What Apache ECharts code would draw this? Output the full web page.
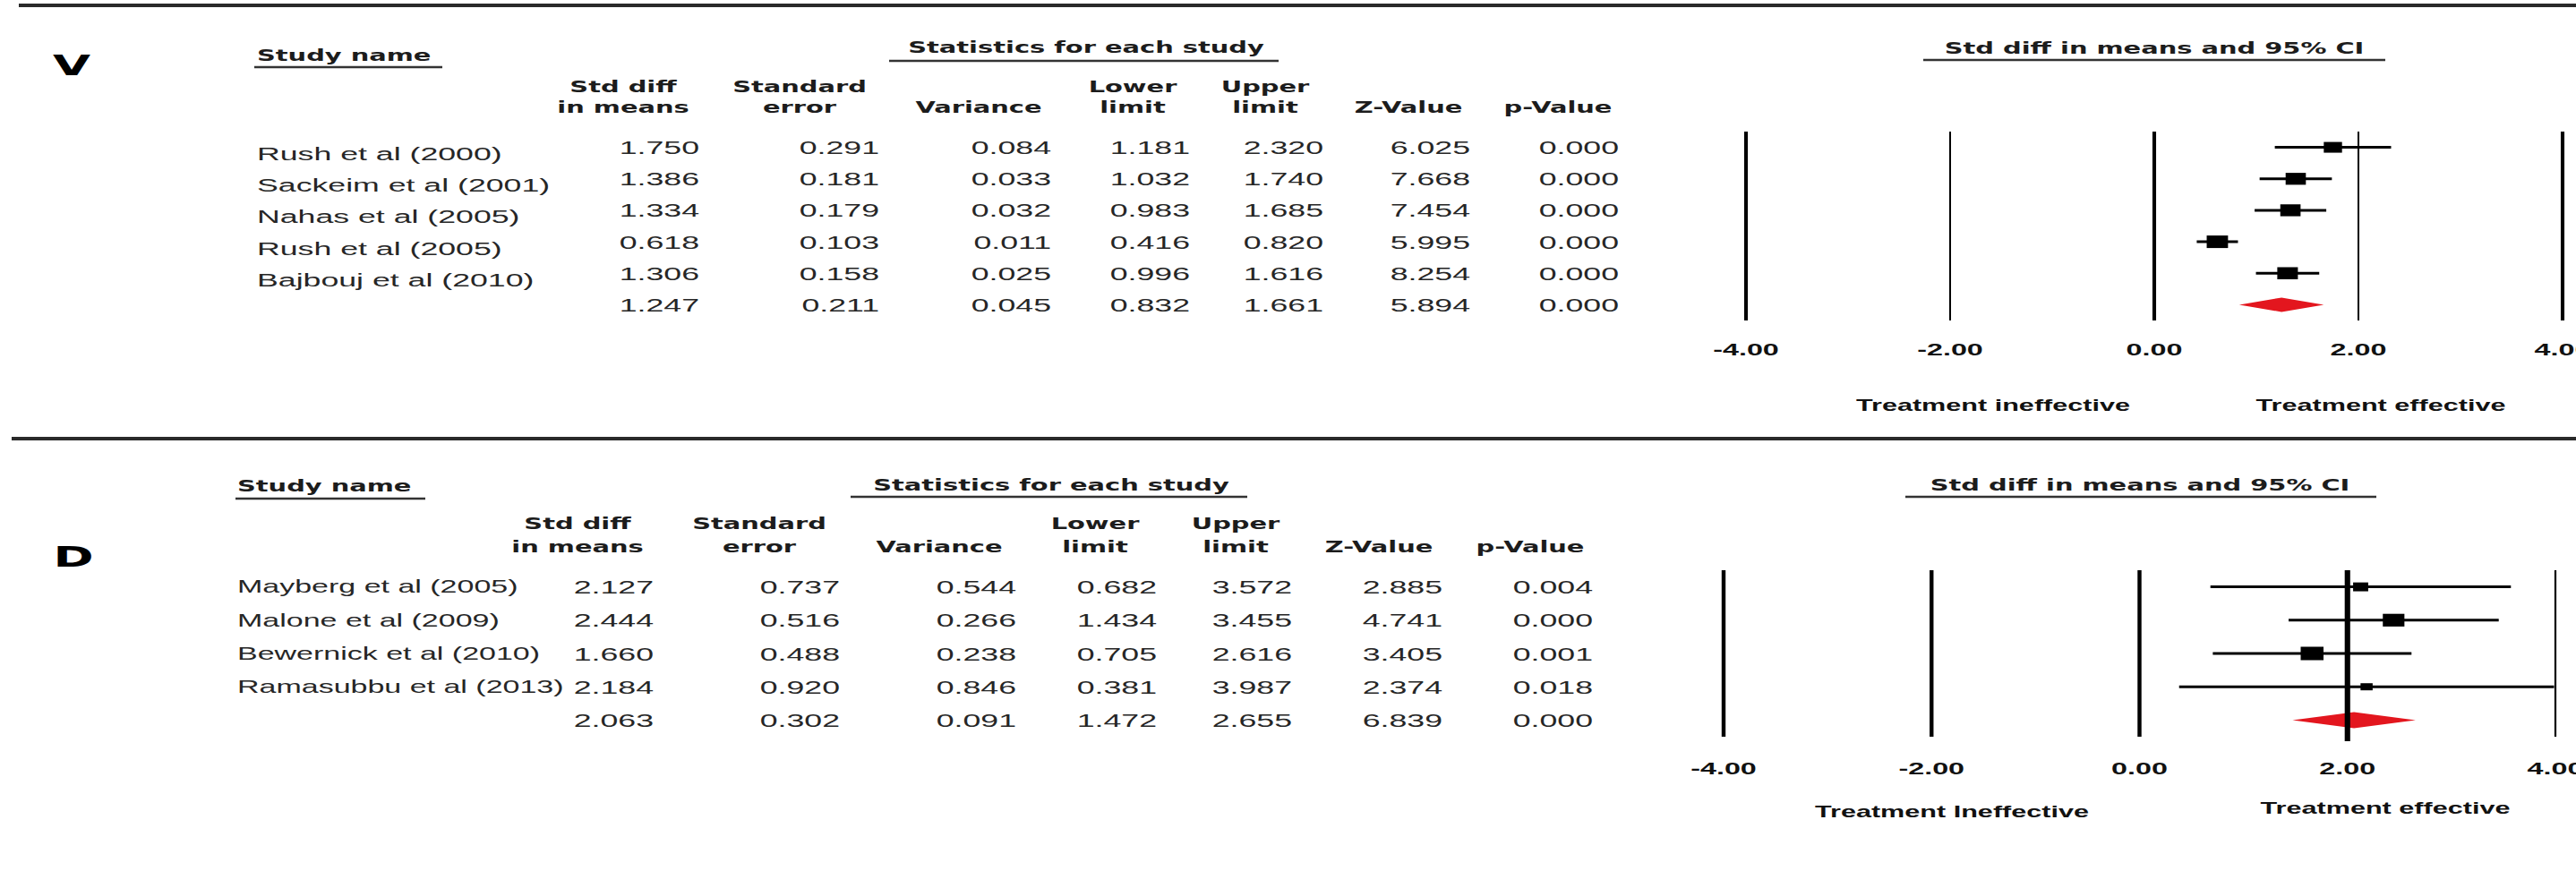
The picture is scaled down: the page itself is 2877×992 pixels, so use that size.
<!DOCTYPE html>
<html>
<head>
<meta charset="utf-8">
<script src="https://cdn.jsdelivr.net/npm/echarts@6/dist/echarts.min.js"></script>
<style>
html,body{margin:0;padding:0;background:#fff;overflow:hidden;width:2877px;height:992px}
#chart{width:1693px;height:992px;transform:scaleX(1.7);transform-origin:0 0;background:#fff}
</style>
</head>
<body>
<div id="chart"></div>
<script>
// ---------------- DATA ----------------
const columnHeaders = [['Std diff','in means'],['Standard','error'],['','Variance'],['Lower','limit'],['Upper','limit'],['','Z-Value'],['','p-Value']];
const xTicks = [-4, -2, 0, 2, 4];

// Panel V
const vStudies  = ['Rush et al (2000)','Sackeim et al (2001)','Nahas et al (2005)','Rush et al (2005)','Bajbouj et al (2010)'];
const vStdDiff  = [1.750, 1.386, 1.334, 0.618, 1.306];
const vSE       = [0.291, 0.181, 0.179, 0.103, 0.158];
const vVariance = [0.084, 0.033, 0.032, 0.011, 0.025];
const vLower    = [1.181, 1.032, 0.983, 0.416, 0.996];
const vUpper    = [2.320, 1.740, 1.685, 0.820, 1.616];
const vZ        = [6.025, 7.668, 7.454, 5.995, 8.254];
const vP        = [0.000, 0.000, 0.000, 0.000, 0.000];
const vSummary  = [1.247, 0.211, 0.045, 0.832, 1.661, 5.894, 0.000];
const vTau2     = 0.19;
const vTreat    = ['Treatment ineffective','Treatment effective'];

// Panel D
const dStudies  = ['Mayberg et al (2005)','Malone et al (2009)','Bewernick et al (2010)','Ramasubbu et al (2013)'];
const dStdDiff  = [2.127, 2.444, 1.660, 2.184];
const dSE       = [0.737, 0.516, 0.488, 0.920];
const dVariance = [0.544, 0.266, 0.238, 0.846];
const dLower    = [0.682, 1.434, 0.705, 0.381];
const dUpper    = [3.572, 3.455, 2.616, 3.987];
const dZ        = [2.885, 4.741, 3.405, 2.374];
const dP        = [0.004, 0.000, 0.001, 0.018];
const dSummary  = [2.063, 0.302, 0.091, 1.472, 2.655, 6.839, 0.000];
const dTau2     = 0.0;
const dTreat    = ['Treatment Ineffective','Treatment effective'];

// ---------------- LAYOUT / STYLE (actual picture px) ----------------
const S = 1.7; // horizontal stretch of the whole figure
const LAYOUT_V = {
  letter:'V', letterPos:{x:80,y:73},
  grid:{left:1950,right:2862,top:147,bottom:358}, labelMargin:23,
  nameX:287, nameDy:7, nameFont:'21px "Liberation Sans", Arial, sans-serif',
  cols:[781,982,1174,1329,1478,1642,1808],
  headerX:[696,893,1093,1265,1413,1573,1740], headerY:[97,120],
  studyName:{x:287,y:62,ux1:284,ux2:494,uy:75},
  stats:{x:1213,y:53,ux1:993,ux2:1428,uy:68},
  forestTitle:{x:2406,y:54,ux1:2148,ux2:2664,uy:67},
  treat:[{x:2226,y:453},{x:2659,y:453}],
  refWidths:[2.4,1.2,2.4,1.2,2.4], refExtend:[0,0,0,0,0],
  maxBox:14, diamondH:16
};
const LAYOUT_D = {
  letter:'D', letterPos:{x:82,y:622},
  grid:{left:1925,right:2854,top:637,bottom:823}, labelMargin:26,
  nameX:265, nameDy:0, nameFont:'20px "Liberation Sans", Arial, sans-serif',
  cols:[730,938,1135,1292,1443,1611,1779],
  headerX:[645,848,1049,1223,1380,1540,1709], headerY:[585,611],
  studyName:{x:265,y:543,ux1:263,ux2:475,uy:557},
  stats:{x:1174,y:542,ux1:950,ux2:1393,uy:555},
  forestTitle:{x:2390,y:542,ux1:2128,ux2:2654,uy:555},
  treat:[{x:2180,y:907},{x:2664,y:903}],
  refWidths:[2.6,2.6,2.6,3.6,1.3], refExtend:[0,0,0,5,0],
  maxBox:15, diamondH:18
};
const ROW_FONT = '21px "Liberation Sans", Arial, sans-serif';
const ROW_COLOR = '#262626';
const HEAD_FONT = 'bold 17px "DejaVu Sans", Verdana, sans-serif';
const HEAD_COLOR = '#1c1c1c';
const TREAT_FONT = 'bold 18px "Liberation Sans", Arial, sans-serif';
const LETTER_FONT = 'bold 32px "DejaVu Sans", Verdana, sans-serif';
const DIAMOND_COLOR = '#e3161e';

const fmt3 = v => v.toFixed(3);
const px = v => v / S;

function textEl(t, x, y, font, fill, align){
  return {type:'text', x:px(x), y:y, silent:true,
    style:{text:t, font:font, fill:fill, textAlign:align||'center', align:align||'center',
           textVerticalAlign:'middle', verticalAlign:'middle'}};
}
function lineEl(x1, x2, y, w, color){
  return {type:'line', silent:true, shape:{x1:px(x1), y1:y, x2:px(x2), y2:y},
    style:{stroke:color||'#333', lineWidth:w||2}};
}

function buildPanel(k, P, L, graphics){
  const n = P.studies.length;
  const categories = P.studies.concat(['Summary']);
  const cells = P.studies.map((s,i)=>[P.est[i],P.se[i],P.variance[i],P.lower[i],P.upper[i],P.z[i],P.p[i]]);
  cells.push(P.summary);
  const names = P.studies.concat(['']);
  const weights = P.variance.map(v => 1/(v + P.tau2));
  const wMax = Math.max.apply(null, weights);
  const sides = weights.map(w => L.maxBox * Math.sqrt(w / wMax));

  const grid = {left:px(L.grid.left), width:px(L.grid.right - L.grid.left),
    top:L.grid.top, height:L.grid.bottom - L.grid.top, containLabel:false, outerBoundsMode:'none'};
  const xAxis = {gridIndex:k, type:'value', min:xTicks[0], max:xTicks[xTicks.length-1], interval:2,
    axisLine:{show:false}, axisTick:{show:false}, splitLine:{show:false},
    axisLabel:{show:true, margin:L.labelMargin, formatter:v=>v.toFixed(2), color:'#111',
      fontWeight:'bold', fontSize:19, fontFamily:'"Liberation Sans", Arial, sans-serif'}};
  const yAxis = {gridIndex:k, type:'category', data:categories, inverse:true, show:false};

  const series = [];
  // table text rows
  series.push({type:'custom', name:'table'+k, xAxisIndex:k, yAxisIndex:k, silent:true, z:5,
    encode:{x:0,y:1}, data:categories.map((c,i)=>[0,i]),
    renderItem:(params, api)=>{
      const i = params.dataIndex;
      const y = api.coord([0,i])[1];
      const ch = [];
      if(names[i]) ch.push(textEl(names[i], L.nameX, y + L.nameDy, L.nameFont, ROW_COLOR, 'left'));
      cells[i].forEach((v,c)=>{ ch.push(textEl(fmt3(v), L.cols[c], y, ROW_FONT, ROW_COLOR, 'right')); });
      return {type:'group', children:ch};
    }});
  // summary diamond
  series.push({type:'custom', name:'pooled'+k, xAxisIndex:k, yAxisIndex:k, silent:true, z:2,
    encode:{x:[0,2,3], y:1}, data:[[P.summary[0], n, P.summary[3], P.summary[4]]],
    renderItem:(params, api)=>{
      const r = api.value(1);
      const c = api.coord([api.value(0), r]);
      const lo = api.coord([api.value(2), r]);
      const hi = api.coord([api.value(3), r]);
      const h = L.diamondH/2;
      return {type:'polygon', shape:{points:[[lo[0],c[1]],[c[0],c[1]-h],[hi[0],c[1]],[c[0],c[1]+h]]},
        style:{fill:DIAMOND_COLOR}};
    }});
  // study estimates with CI
  series.push({type:'custom', name:'studies'+k, xAxisIndex:k, yAxisIndex:k, silent:true, z:3,
    encode:{x:[0,2,3], y:1}, data:P.studies.map((s,i)=>[P.est[i], i, P.lower[i], P.upper[i]]),
    renderItem:(params, api)=>{
      const r = api.value(1);
      const e = api.coord([api.value(0), r]);
      const lo = api.coord([api.value(2), r]);
      const hi = api.coord([api.value(3), r]);
      const s = sides[params.dataIndex];
      return {type:'group', children:[
        {type:'line', shape:{x1:lo[0],y1:lo[1],x2:hi[0],y2:hi[1]}, style:{stroke:'#000', lineWidth:3}},
        {type:'rect', shape:{x:e[0]-s/2, y:e[1]-s/2, width:s, height:s}, style:{fill:'#000'}}
      ]};
    }});
  // vertical reference lines at ticks
  series.push({type:'custom', name:'ref'+k, xAxisIndex:k, yAxisIndex:k, silent:true, z:4,
    encode:{x:0,y:1}, data:xTicks.map(t=>[t,0]),
    renderItem:(params, api)=>{
      const i = params.dataIndex;
      const x = api.coord([api.value(0), 0])[0];
      const cs = params.coordSys;
      return {type:'line', shape:{x1:x, y1:cs.y, x2:x, y2:cs.y + cs.height + L.refExtend[i]},
        style:{stroke:'#000', lineWidth:L.refWidths[i]}};
    }});

  // static texts
  graphics.push(textEl(L.letter, L.letterPos.x, L.letterPos.y, LETTER_FONT, '#000', 'center'));
  graphics.push(textEl('Study name', L.studyName.x, L.studyName.y, HEAD_FONT, HEAD_COLOR, 'left'));
  graphics.push(lineEl(L.studyName.ux1, L.studyName.ux2, L.studyName.uy, 2.5));
  graphics.push(textEl('Statistics for each study', L.stats.x, L.stats.y, HEAD_FONT, HEAD_COLOR, 'center'));
  graphics.push(lineEl(L.stats.ux1, L.stats.ux2, L.stats.uy, 2.5));
  graphics.push(textEl('Std diff in means and 95% CI', L.forestTitle.x, L.forestTitle.y, HEAD_FONT, HEAD_COLOR, 'center'));
  graphics.push(lineEl(L.forestTitle.ux1, L.forestTitle.ux2, L.forestTitle.uy, 2.5));
  columnHeaders.forEach((h,c)=>{
    h.forEach((t,j)=>{ if(t) graphics.push(textEl(t, L.headerX[c], L.headerY[j], HEAD_FONT, HEAD_COLOR, 'center')); });
  });
  P.treat.forEach((t,j)=> graphics.push(textEl(t, L.treat[j].x, L.treat[j].y, TREAT_FONT, '#111', 'center')));

  return {grid, xAxis, yAxis, series};
}

const graphics = [];
// frame lines
graphics.push(lineEl(21, 2877, 6, 4, '#2a2a2a'));
graphics.push(lineEl(13, 2877, 490, 4, '#2a2a2a'));

const pV = buildPanel(0, {studies:vStudies, est:vStdDiff, se:vSE, variance:vVariance, lower:vLower, upper:vUpper,
  z:vZ, p:vP, summary:vSummary, tau2:vTau2, treat:vTreat}, LAYOUT_V, graphics);
const pD = buildPanel(1, {studies:dStudies, est:dStdDiff, se:dSE, variance:dVariance, lower:dLower, upper:dUpper,
  z:dZ, p:dP, summary:dSummary, tau2:dTau2, treat:dTreat}, LAYOUT_D, graphics);

const chart = echarts.init(document.getElementById('chart'), null, {renderer:'svg'});
chart.setOption({
  animation:false,
  backgroundColor:'#fff',
  grid:[pV.grid, pD.grid],
  xAxis:[pV.xAxis, pD.xAxis],
  yAxis:[pV.yAxis, pD.yAxis],
  series:pV.series.concat(pD.series),
  graphic:{elements:graphics}
});
</script>
</body>
</html>
